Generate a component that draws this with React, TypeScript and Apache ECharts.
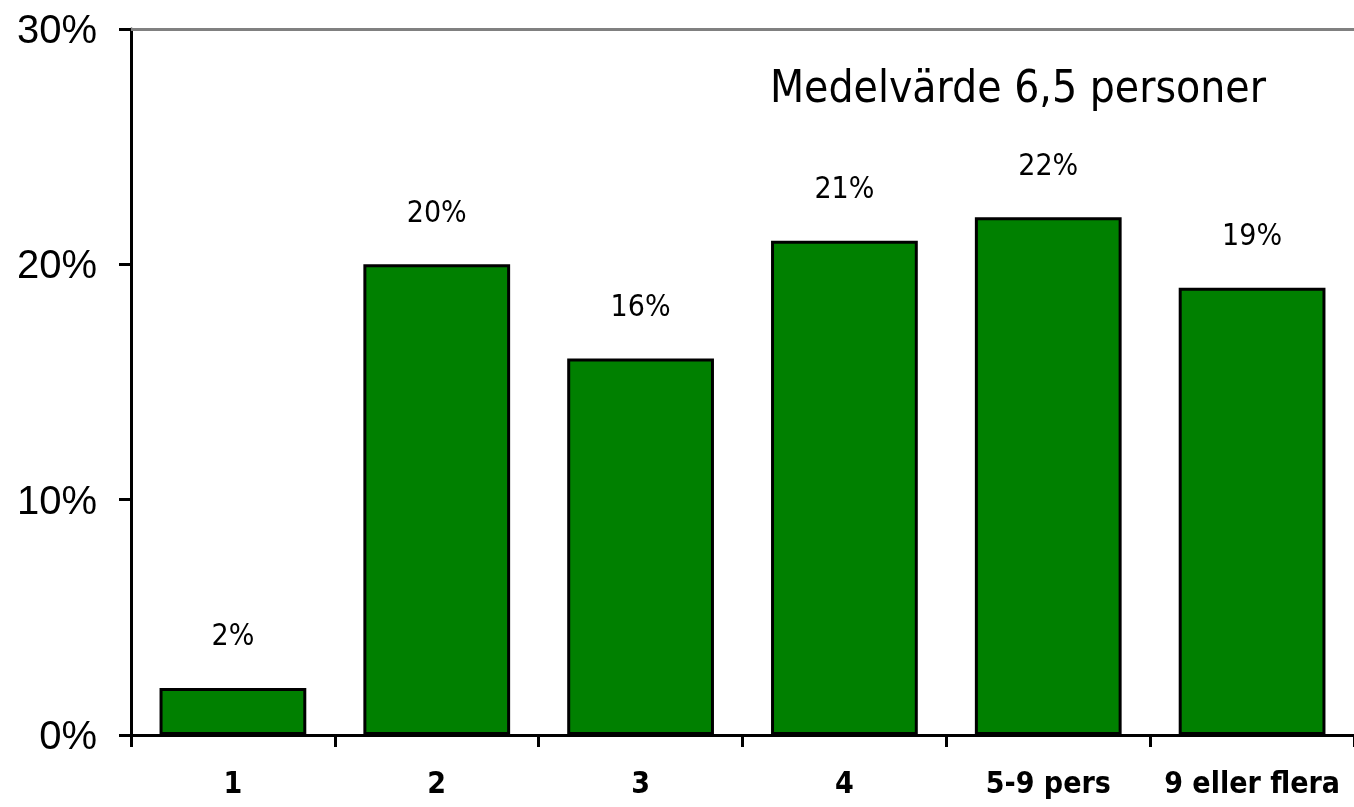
import React, { useEffect, useRef } from "react";
import * as echarts from "echarts";

const categories = ["1", "2", "3", "4", "5-9 pers", "9 eller flera"];
const shares = [2, 20, 16, 21, 22, 19];
const yTicks = [0, 10, 20, 30];
const annotation = "Medelvärde 6,5 personer";

const NARROW = "'DejaVu Sans Condensed', 'Liberation Sans Narrow', sans-serif";
const SANS = "'Liberation Sans', Arial, sans-serif";

export default function App() {
  const ref = useRef<HTMLDivElement>(null);
  useEffect(() => {
    if (!ref.current) return;
    const chart = echarts.init(ref.current, undefined, { renderer: "svg" });
    chart.setOption({
      animation: false,
      grid: { left: 131, right: 0, top: 29, bottom: 72, containLabel: false },
      xAxis: {
        type: "category",
        data: categories,
        axisLine: { lineStyle: { color: "#000", width: 3 } },
        axisTick: { show: true, interval: 0, length: 12, lineStyle: { color: "#000", width: 3 } },
        axisLabel: { interval: 0, color: "#000", fontFamily: NARROW, fontWeight: "bold", fontSize: 30, margin: 32 },
      },
      yAxis: {
        type: "value",
        min: yTicks[0],
        max: yTicks[yTicks.length - 1],
        interval: 10,
        axisLine: { show: true, lineStyle: { color: "#000", width: 3 } },
        axisTick: { show: true, length: 12, lineStyle: { color: "#000", width: 3 } },
        splitLine: { show: false },
        axisLabel: { color: "#000", fontFamily: SANS, fontSize: 40, margin: 34, formatter: (v: number) => v + "%" },
      },
      series: [
        {
          type: "bar",
          data: shares,
          barCategoryGap: "28%",
          itemStyle: { color: "#008000", borderColor: "#000", borderWidth: 3 },
          label: {
            show: true,
            position: "top",
            distance: 38,
            color: "#000",
            fontFamily: NARROW,
            fontSize: 30,
            formatter: (p: any) => p.value + "%",
          },
          markLine: {
            silent: true,
            symbol: "none",
            label: { show: false },
            lineStyle: { color: "#808080", width: 3, type: "solid" },
            data: [{ yAxis: yTicks[yTicks.length - 1] }],
          },
        },
      ],
      graphic: [
        {
          type: "text",
          right: 88,
          top: 64,
          style: { text: annotation, fill: "#000", font: `44px ${NARROW}` },
        },
      ],
    });
    return () => chart.dispose();
  }, []);
  return <div ref={ref} style={{ position: "fixed", left: 0, top: 0, width: 1354, height: 807 }} />;
}
